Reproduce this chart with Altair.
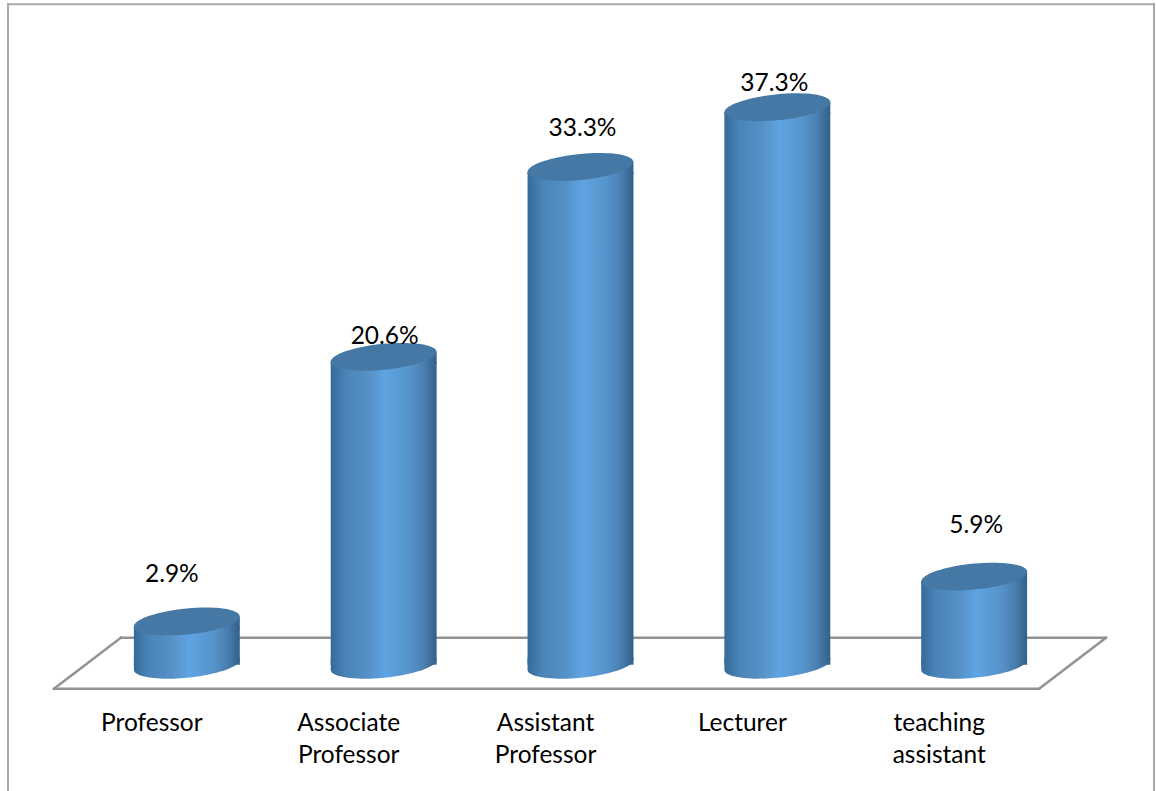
import altair as alt
import pandas as pd

# Share of teaching staff by academic rank (percent)
categories = ["Professor", "Associate Professor", "Assistant Professor", "Lecturer", "teaching assistant"]
shares = [2.9, 20.6, 33.3, 37.3, 5.9]

# Nudges for the value labels, in pixels (dx, dy relative to the cylinder's top centre)
label_nudges = [(-15, -46), (1, -20), (2, -38), (-3, -23), (2, -51)]

FONT = "Lato"
WIDTH, HEIGHT = 1156, 665
CYL_W = 106
HALF = CYL_W / 2
TILT = 5.0      # vertical shift of the rim's side tangents
RIM_B = 13.0    # vertical half-axis of the rim

table = pd.DataFrame({"category": categories, "share": shares, "floor": [0] * len(categories)})


def sheared(px, py):
    """Map a unit-circle point onto the tilted rim, in symbol units."""
    return px, (py * RIM_B - px * TILT) / HALF


def fmt(pt):
    return f"{pt[0]:.4f},{pt[1]:.4f}"


K = 0.5523
s = sheared
# Whole rim, drawn on the cylinder's top
rim_path = (
    f"M{fmt(s(1, 0))}"
    f"C{fmt(s(1, K))} {fmt(s(K, 1))} {fmt(s(0, 1))}"
    f"C{fmt(s(-K, 1))} {fmt(s(-1, K))} {fmt(s(-1, 0))}"
    f"C{fmt(s(-1, -K))} {fmt(s(-K, -1))} {fmt(s(0, -1))}"
    f"C{fmt(s(K, -1))} {fmt(s(1, -K))} {fmt(s(1, 0))}Z"
)
# Wedge joining the flat bar end to the tilted rim above it
head_low = (TILT + 2) / HALF
head_path = f"M{fmt(s(-1, 0))}L{fmt(s(1, 0))}L1,{head_low:.4f}L-1,{head_low:.4f}Z"
# Rounded foot: front half of the rim, squared off up to the bar's end
foot_top = -(TILT + 2) / HALF
foot_path = (
    f"M1,{foot_top:.4f}L{fmt(s(1, 0))}"
    f"C{fmt(s(1, K))} {fmt(s(K, 1))} {fmt(s(0, 1))}"
    f"C{fmt(s(-K, 1))} {fmt(s(-1, K))} {fmt(s(-1, 0))}"
    f"L-1,{foot_top:.4f}Z"
)

body_fill = alt.LinearGradient(
    gradient="linear", x1=0, x2=1, y1=0, y2=0,
    stops=[
        alt.GradientStop(color="#356a99", offset=0),
        alt.GradientStop(color="#4a84b8", offset=0.14),
        alt.GradientStop(color="#5590c6", offset=0.35),
        alt.GradientStop(color="#5fa4e2", offset=0.52),
        alt.GradientStop(color="#5592c9", offset=0.76),
        alt.GradientStop(color="#4a7fb0", offset=0.88),
        alt.GradientStop(color="#31608a", offset=1),
    ],
)

x_enc = alt.X(
    "category:N",
    sort=categories,
    scale=alt.Scale(range=[88.5, 1073.5], paddingInner=0, paddingOuter=0),
    axis=alt.Axis(
        title=None, domain=False, ticks=False, grid=False,
        labelExpr="split(datum.label, ' ')",
        labelAngle=0, labelFont=FONT, labelFontSize=24.5, labelColor="#000000",
        labelOffset=-35, labelPadding=47, labelLineHeight=32, labelAlign="center",
        labelBaseline="top",
    ),
)
value_scale = alt.Scale(domain=[0, 44.45], nice=False, zero=False)
y_enc = alt.Y("share:Q", scale=value_scale, axis=None)


def guide(color, width, x, x2, y, y2):
    return alt.Chart(alt.Data(values=[{}])).mark_rule(
        color=color, strokeWidth=width, strokeCap="square"
    ).encode(x=alt.value(x), x2=alt.value(x2), y=alt.value(y), y2=alt.value(y2))


# Outer frame, open at the bottom
FRAME = "#a8a8a8"
frame = [
    guide(FRAME, 2, 8, 8, 4, 791),
    guide(FRAME, 2, 8, 1155, 4, 4),
    guide(FRAME, 2, 1155, 1155, 4, 791),
]

# Floor of the 3-D plot
FLOOR = "#929292"
floor = [
    guide(FLOOR, 2.4, 121, 1107, 638, 638),
    guide(FLOOR, 2.4, 54, 1040, 689, 689),
    guide(FLOOR, 2.4, 54, 121, 689, 638),
    guide(FLOOR, 2.4, 1040, 1107, 689, 638),
]

base = alt.Chart(table)


def symbol(path, fill, y_field):
    return base.mark_point(
        shape=path, size=CYL_W ** 2, filled=True, fill=fill, opacity=1, strokeWidth=0
    ).encode(x=x_enc, y=alt.Y(y_field, scale=value_scale, axis=None))


# The mark's yOffset moves both bar ends, so the lower end is set back by twice the tilt
body = base.mark_bar(size=CYL_W, fill=body_fill, strokeWidth=0, yOffset=TILT).encode(
    x=x_enc, y=y_enc, y2=alt.value(HEIGHT - 2 * TILT)
)
foot = symbol(foot_path, body_fill, "floor:Q")
head = symbol(head_path, body_fill, "share:Q")
rim = symbol(rim_path, "#4678a6", "share:Q")

# Value labels sit at individually nudged spots above each cylinder
value_labels = [
    base.transform_filter(alt.datum.category == cat)
    .transform_calculate(label="datum.share + '%'")
    .mark_text(font=FONT, fontSize=24.5, color="#000000", dx=dx, dy=dy)
    .encode(x=x_enc, y=y_enc, text="label:N")
    for cat, (dx, dy) in zip(categories, label_nudges)
]

chart = alt.layer(*frame, *floor, body, foot, head, rim, *value_labels).properties(
    width=WIDTH, height=HEIGHT, padding=0, background="#ffffff"
).configure_view(stroke=None)

chart.save("out.html", embed_options={"renderer": "svg", "actions": False})
